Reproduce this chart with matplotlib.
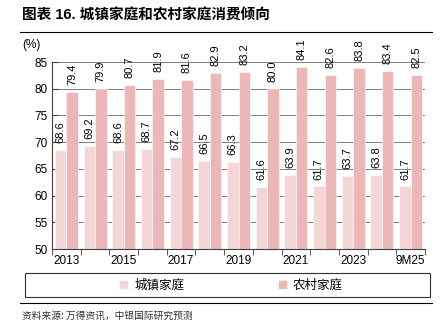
import matplotlib.pyplot as plt
import numpy as np
from matplotlib.patches import Rectangle
from matplotlib.lines import Line2D

plt.rcParams['font.family'] = ['Liberation Sans', 'Noto Sans CJK SC', 'DejaVu Sans']

# -----------------------------
# Data
# -----------------------------
years = ['2013', '2014', '2015', '2016', '2017', '2018', '2019',
         '2020', '2021', '2022', '2023', '2024', '9M25']
urban = [68.6, 69.2, 68.6, 68.7, 67.2, 66.5, 66.3, 61.6, 63.9, 61.7, 63.7, 63.8, 61.7]
rural = [79.4, 79.9, 80.7, 81.9, 81.6, 82.9, 83.2, 80.0, 84.1, 82.6, 83.8, 83.4, 82.5]
series_names = ['城镇家庭', '农村家庭']

c_urban = '#F5D6D6'
c_rural = '#ECB7B7'

fig = plt.figure(figsize=(4.44, 3.31), dpi=100)
W, H = 444, 331
ax = fig.add_axes([52 / W, 1 - 249 / H, (425 - 52) / W, (249 - 62) / H])

x = np.arange(len(years))
bw = 0.4
b1 = ax.bar(x - bw / 2, urban, bw, color=c_urban, edgecolor='white', linewidth=0.4, zorder=2)
b2 = ax.bar(x + bw / 2, rural, bw, color=c_rural, edgecolor='white', linewidth=0.4, zorder=2)

# value labels, rotated
for xi, v in zip(x - bw / 2, urban):
    ax.annotate(f'{v:.1f}', (xi, v), xytext=(0, 5), textcoords='offset points',
                rotation=90, ha='center', va='bottom', fontsize=8, annotation_clip=False)
for xi, v in zip(x + bw / 2, rural):
    ax.annotate(f'{v:.1f}', (xi, v), xytext=(0, 5), textcoords='offset points',
                rotation=90, ha='center', va='bottom', fontsize=8, annotation_clip=False)

ax.set_ylim(50, 85)
ax.set_xlim(-0.5, len(years) - 0.5)
ax.set_yticks(range(50, 86, 5))
ax.yaxis.grid(True, color='#808080', linewidth=0.7, zorder=0)
ax.set_axisbelow(True)

# labels every other year, ticks at group boundaries
ax.set_xticks(x[::2])
ax.set_xticklabels(years[::2])
ax.tick_params(axis='x', length=0, labelsize=8.5, pad=4)
ax.set_xticks(np.arange(-0.5, len(years), 1), minor=True)
ax.tick_params(axis='x', which='minor', length=4, direction='out', color='#404040')
ax.tick_params(axis='y', length=4, direction='in', labelsize=8.5, pad=3, color='#404040')

for s in ['top', 'right']:
    ax.spines[s].set_visible(False)
ax.spines['left'].set_color('#404040')
ax.spines['bottom'].set_color('#404040')

# -----------------------------
# Header / footer
# -----------------------------
fig.text(22 / W, 1 - 16 / H, '图表 16. 城镇家庭和农村家庭消费倾向', fontsize=10.5,
         fontweight='bold', va='center', ha='left',
         family=['Liberation Sans', 'Noto Sans CJK SC'])
fig.add_artist(Line2D([20 / W, 432 / W], [1 - 32 / H, 1 - 32 / H], color='black', linewidth=0.8))
fig.text(22 / W, 1 - 45 / H, '(%)', fontsize=8.5, va='center', ha='left')

fig.add_artist(Rectangle((25 / W, 1 - 297 / H), 405 / W, 24 / H, fill=False,
                         edgecolor='#303030', linewidth=0.8, transform=fig.transFigure))
fig.legend([b1, b2], series_names, loc='center', bbox_to_anchor=(231 / W, 1 - 285 / H),
           ncol=2, frameon=False, handlelength=0.7, handleheight=0.7,
           handletextpad=0.5, columnspacing=7.5,
           prop={'family': ['Noto Sans CJK SC'], 'size': 9})

fig.add_artist(Line2D([20 / W, 432 / W], [1 - 303 / H, 1 - 303 / H], color='black', linewidth=0.8))
fig.text(22 / W, 1 - 316 / H, '资料来源: 万得资讯，中银国际研究预测', fontsize=7,
         style='italic', va='center', ha='left', color='#333333',
         family=['Noto Sans CJK SC'])

fig.savefig('out.png', dpi=100)
